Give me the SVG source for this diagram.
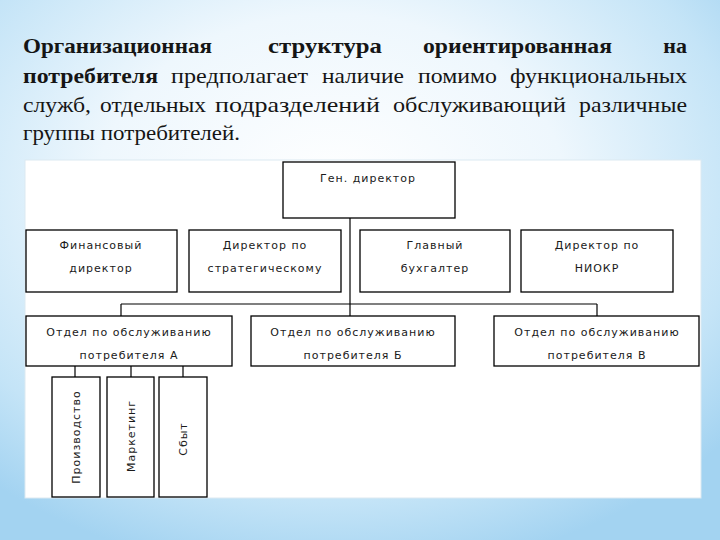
<svg xmlns="http://www.w3.org/2000/svg" width="720" height="540" viewBox="0 0 720 540">
<defs>
<radialGradient id="bg" cx="46%" cy="35%" r="72%">
<stop offset="0" stop-color="#ffffff"/>
<stop offset="0.45" stop-color="#eef7fd"/>
<stop offset="0.8" stop-color="#c4e4f7"/>
<stop offset="1" stop-color="#a3d3f1"/>
</radialGradient>
<style>
.box{fill:#ffffff;stroke:#000000;stroke-width:1.3}
.lbl{font-family:'DejaVu Sans',sans-serif;font-size:11px;fill:#1a1a1a;letter-spacing:1px;text-anchor:middle}
.con{stroke:#000000;stroke-width:1.2;fill:none}
</style>
</defs>
<rect x="0" y="0" width="720" height="540" fill="url(#bg)"/>
<g id="heading" font-family="Liberation Serif, Tinos, Times New Roman, DejaVu Serif, serif" font-size="22" fill="#151515">
<text font-weight="bold" x="23" y="53" textLength="189" lengthAdjust="spacingAndGlyphs">Организационная</text>
<text font-weight="bold" x="268" y="53" textLength="114" lengthAdjust="spacingAndGlyphs">структура</text>
<text font-weight="bold" x="423" y="53" textLength="189" lengthAdjust="spacingAndGlyphs">ориентированная</text>
<text font-weight="bold" x="687" y="53" text-anchor="end">на</text>
<text font-weight="bold" x="23" y="83" textLength="135" lengthAdjust="spacingAndGlyphs">потребителя</text>
<text x="171" y="83" textLength="137" lengthAdjust="spacingAndGlyphs">предполагает</text>
<text x="322" y="83" textLength="82" lengthAdjust="spacingAndGlyphs">наличие</text>
<text x="418" y="83" textLength="79" lengthAdjust="spacingAndGlyphs">помимо</text>
<text x="510" y="83" textLength="177" lengthAdjust="spacingAndGlyphs">функциональных</text>
<text x="23" y="112" textLength="68" lengthAdjust="spacingAndGlyphs">служб,</text>
<text x="100" y="112" textLength="106" lengthAdjust="spacingAndGlyphs">отдельных</text>
<text x="215" y="112" textLength="165" lengthAdjust="spacingAndGlyphs">подразделений</text>
<text x="393" y="112" textLength="173" lengthAdjust="spacingAndGlyphs">обслуживающий</text>
<text x="579" y="112" textLength="108" lengthAdjust="spacingAndGlyphs">различные</text>
<text x="23" y="140" textLength="217" lengthAdjust="spacingAndGlyphs">группы потребителей.</text>
</g>
<rect x="25" y="160" width="676" height="338" fill="#ffffff" stroke="#dce9f1" stroke-width="1"/>
<g id="connectors">
<line class="con" x1="350" y1="218" x2="350" y2="316"/>
<line class="con" x1="121" y1="304" x2="597" y2="304"/>
<line class="con" x1="121" y1="304" x2="121" y2="316"/>
<line class="con" x1="597" y1="304" x2="597" y2="316"/>
<line class="con" x1="75" y1="366" x2="75" y2="377"/>
<line class="con" x1="131" y1="366" x2="131" y2="377"/>
<line class="con" x1="183" y1="366" x2="183" y2="377"/>
</g>
<g id="gen">
<rect class="box" x="283" y="162" width="172" height="56"/>
<text class="lbl" x="368" y="182">Ген. директор</text>
</g>
<g id="fin">
<rect class="box" x="26" y="230" width="151" height="62"/>
<text class="lbl" x="101" y="249">Финансовый</text>
<text class="lbl" x="101" y="272">директор</text>
</g>
<g id="strat">
<rect class="box" x="189" y="230" width="152" height="62"/>
<text class="lbl" x="265" y="249">Директор по</text>
<text class="lbl" x="265" y="272">стратегическому</text>
</g>
<g id="buh">
<rect class="box" x="360" y="230" width="150" height="62"/>
<text class="lbl" x="435" y="249">Главный</text>
<text class="lbl" x="435" y="272">бухгалтер</text>
</g>
<g id="niokr">
<rect class="box" x="521" y="230" width="152" height="62"/>
<text class="lbl" x="597" y="249">Директор по</text>
<text class="lbl" x="597" y="272">НИОКР</text>
</g>
<g id="otdA">
<rect class="box" x="26" y="316" width="206" height="50"/>
<text class="lbl" x="129" y="336">Отдел по обслуживанию</text>
<text class="lbl" x="129" y="359">потребителя А</text>
</g>
<g id="otdB">
<rect class="box" x="251" y="316" width="204" height="50"/>
<text class="lbl" x="353" y="336">Отдел по обслуживанию</text>
<text class="lbl" x="353" y="359">потребителя Б</text>
</g>
<g id="otdV">
<rect class="box" x="494" y="316" width="205" height="50"/>
<text class="lbl" x="597" y="336">Отдел по обслуживанию</text>
<text class="lbl" x="597" y="359">потребителя В</text>
</g>
<g id="proizv">
<rect class="box" x="52" y="377" width="48" height="120"/>
<text class="lbl" transform="translate(80 437) rotate(-90)">Производство</text>
</g>
<g id="market">
<rect class="box" x="107" y="377" width="47" height="120"/>
<text class="lbl" transform="translate(135 436) rotate(-90)">Маркетинг</text>
</g>
<g id="sbyt">
<rect class="box" x="159" y="377" width="48" height="120"/>
<text class="lbl" transform="translate(187 439) rotate(-90)">Сбыт</text>
</g>
</svg>
